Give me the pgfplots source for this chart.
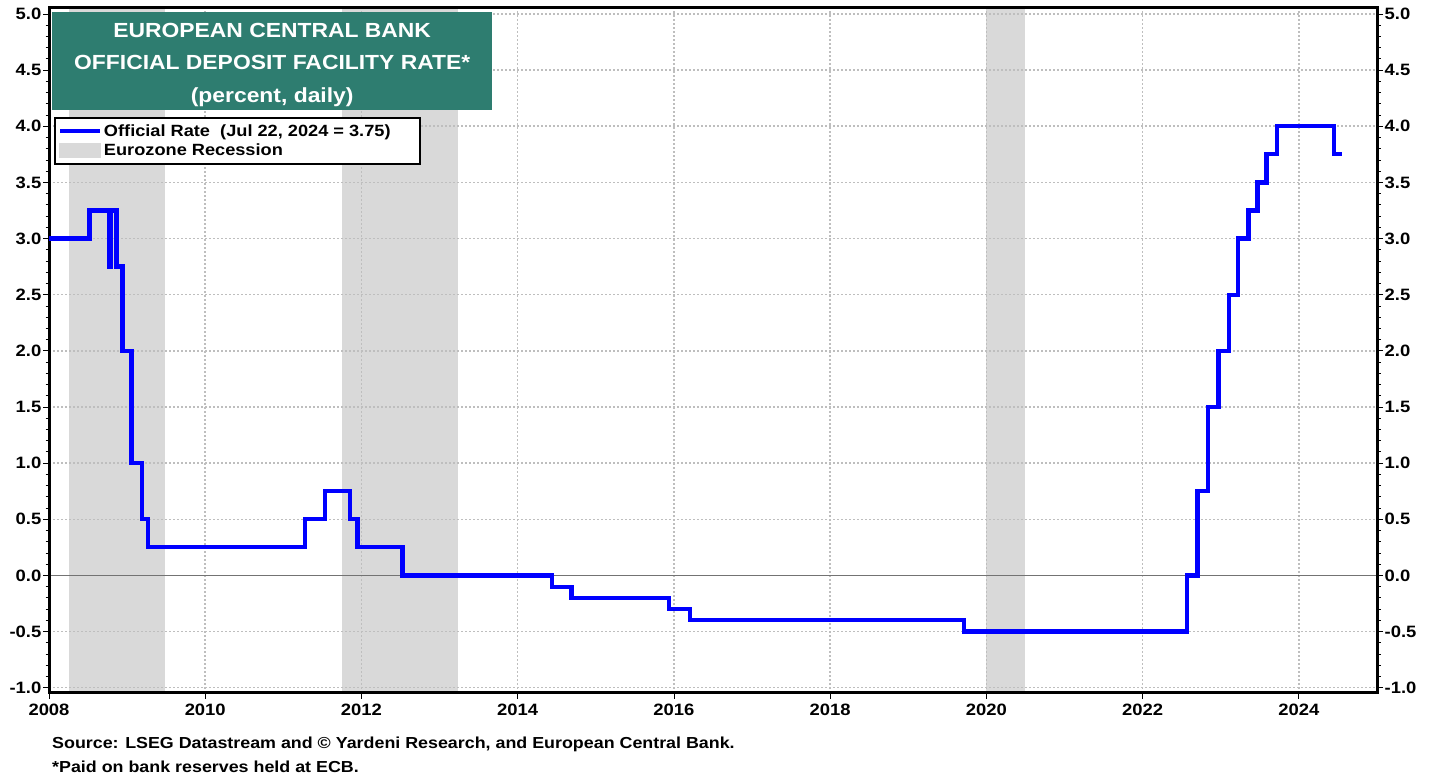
\documentclass[border=0pt]{standalone}
\usepackage{fontspec}
\setmainfont{Liberation Sans}[FakeStretch=1.12]
\usepackage{pgfplots}
\pgfplotsset{compat=1.18}
\definecolor{teal1}{RGB}{46,125,112}
\definecolor{recg}{RGB}{217,217,217}
\definecolor{gridc}{RGB}{190,190,190}
\begin{document}
\begin{tikzpicture}
\pgfplotsset{
  common/.style={
    scale only axis, width=1328bp, height=685bp,
    xmin=2008, xmax=2025, ymin=-1.047, ymax=5.053,
    xtick={2008,2010,...,2024}, ytick={-1,-0.5,...,5},
    minor y tick num=4,
    tick align=outside,
    major tick length=6bp, minor tick length=3.5bp,
    every tick/.style={black, line width=0.8bp},
    axis line style={line width=3bp},
    /pgf/number format/assume math mode=true,
    ticklabel style={font=\fontsize{16.5}{19}\selectfont\bfseries},
    y tick label style={/pgf/number format/fixed, /pgf/number format/fixed zerofill, /pgf/number format/precision=1, inner sep=1.5bp},
    x tick label style={/pgf/number format/1000 sep={}},
  }
}
\begin{axis}[common, set layers,
  ytick pos=left, xtick pos=bottom,
  xticklabel style={yshift=-2bp},
  grid=major, grid style={gridc, line width=1.5bp, dash pattern=on 1.5bp off 2.5bp},
  extra y ticks={0}, extra y tick labels={},
  extra y tick style={major grid style={solid, black!55, line width=1bp, dash pattern=}},
  legend style={at={(axis description cs:0.00377,0.8409)}, anchor=north west,
    draw=black, line width=2bp, fill=white,
    font=\fontsize{16.3}{19}\selectfont\bfseries,
    inner xsep=3bp, inner ysep=4.5bp, row sep=2.5bp,
    /tikz/every even column/.append style={column sep=4bp}},
  legend cell align=left,
]
\addplot[on layer=axis background, fill=recg, draw=none, forget plot] coordinates {(2008.25,-1.047)(2008.25,5.053)(2009.48,5.053)(2009.48,-1.047)} -- cycle;
\addplot[on layer=axis background, fill=recg, draw=none, forget plot] coordinates {(2011.75,-1.047)(2011.75,5.053)(2013.24,5.053)(2013.24,-1.047)} -- cycle;
\addplot[on layer=axis background, fill=recg, draw=none, forget plot] coordinates {(2020.0,-1.047)(2020.0,5.053)(2020.5,5.053)(2020.5,-1.047)} -- cycle;

\addplot[const plot, blue, line width=4.3bp,
  legend image code/.code={\draw[blue, line width=4bp] (0bp,0bp) -- (40bp,0bp);}]
coordinates {
(2008,3.00) (2008.519,3.25) (2008.768,2.75) (2008.787,3.25) (2008.863,2.75)
(2008.940,2.00) (2009.055,1.00) (2009.189,0.50) (2009.266,0.25) (2011.279,0.50)
(2011.529,0.75) (2011.855,0.50) (2011.951,0.25) (2012.526,0.00) (2014.441,-0.10)
(2014.690,-0.20) (2015.938,-0.30) (2016.205,-0.40) (2019.714,-0.50) (2022.567,0.00)
(2022.701,0.75) (2022.836,1.50) (2022.970,2.00) (2023.104,2.50) (2023.219,3.00)
(2023.356,3.25) (2023.471,3.50) (2023.586,3.75) (2023.720,4.00) (2024.445,3.75)
(2024.556,3.75)
};
\addlegendentry{Official Rate\ \ (Jul 22, 2024 = 3.75)\hspace*{24bp}\mbox{}}
\addlegendimage{legend image code/.code={\fill[recg] (0bp,-6.5bp) rectangle (40bp,6.5bp);}}
\addlegendentry{Eurozone Recession}

\node[anchor=north west, fill=teal1, minimum width=440bp, minimum height=98bp,
  inner sep=0pt] (tbox) at (axis description cs:0.00226,0.99416) {};
\node[text=white, inner sep=0pt, align=center, yshift=-3.5bp,
  font=\fontsize{20.5}{32.5}\selectfont\bfseries] at (tbox.center)
  {EUROPEAN CENTRAL BANK\\OFFICIAL DEPOSIT FACILITY RATE*\\(percent, daily)};
\end{axis}
\begin{axis}[common, axis y line*=right, hide x axis]
\end{axis}
\node[anchor=base west, font=\fontsize{16}{18}\selectfont\bfseries, inner sep=0pt]
  at ([shift={(3bp,-56bp)}]current axis.south west)
  {Source: LSEG Datastream and \textcopyright{} Yardeni Research, and European Central Bank.};
\node[anchor=base west, font=\fontsize{16}{18}\selectfont\bfseries, inner sep=0pt]
  at ([shift={(3bp,-80bp)}]current axis.south west)
  {*Paid on bank reserves held at ECB.};
\pgfresetboundingbox
\path ([shift={(-49bp,-85bp)}]current axis.south west) rectangle ([shift={(61bp,8bp)}]current axis.north east);
\end{tikzpicture}
\end{document}
